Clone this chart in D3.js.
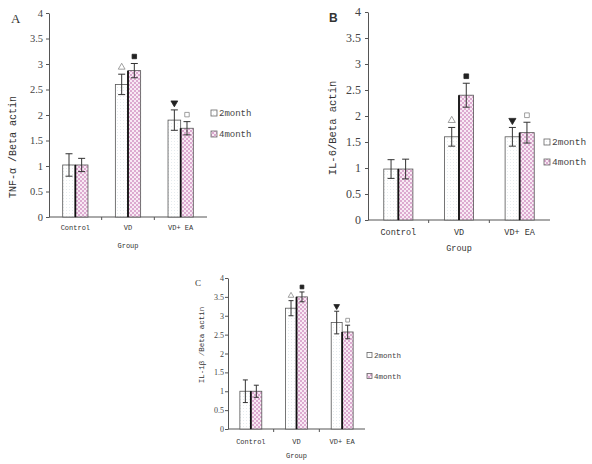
<!DOCTYPE html>
<html><head><meta charset="utf-8">
<script src="https://cdn.jsdelivr.net/npm/d3@7/dist/d3.min.js"></script>
<style>html,body{margin:0;padding:0;background:#fff;}svg{display:block;}</style>
</head><body>
<script>
// ---------- data ----------
const categories = ["Control", "VD", "VD+ EA"];
const seriesNames = ["2month", "4month"];
const yTicks = [0, 0.5, 1, 1.5, 2, 2.5, 3, 3.5, 4];

const tnfMean2 = [1.02, 2.60, 1.90];
const tnfErr2  = [0.22, 0.20, 0.20];
const tnfMean4 = [1.02, 2.87, 1.74];
const tnfErr4  = [0.13, 0.14, 0.13];

const il6Mean2 = [0.98, 1.60, 1.60];
const il6Err2  = [0.18, 0.18, 0.18];
const il6Mean4 = [0.98, 2.40, 1.68];
const il6Err4  = [0.19, 0.23, 0.20];

const il1bMean2 = [1.00, 3.20, 2.82];
const il1bErr2  = [0.30, 0.20, 0.30];
const il1bMean4 = [1.00, 3.50, 2.57];
const il1bErr4  = [0.16, 0.13, 0.18];

const markers2 = [null, "triUpOpen", "triDownFilled"];
const markers4 = [null, "sqFilled", "sqOpen"];

// ---------- drawing ----------
const W = 592, H = 464;
const svg = d3.select("body").append("svg").attr("width", W).attr("height", H);
const FONT = "'Liberation Mono', 'DejaVu Sans Mono', monospace";
const NUMFONT = "'Liberation Serif', 'DejaVu Serif', serif";

const defs = svg.append("defs");
const p2 = defs.append("pattern").attr("id", "pat2").attr("patternUnits", "userSpaceOnUse")
  .attr("width", 3).attr("height", 3);
p2.append("rect").attr("width", 3).attr("height", 3).attr("fill", "#ffffff");
p2.append("rect").attr("width", 1).attr("height", 1).attr("fill", "#e6ecef");
const p4 = defs.append("pattern").attr("id", "pat4").attr("patternUnits", "userSpaceOnUse")
  .attr("width", 4).attr("height", 4);
p4.append("rect").attr("width", 4).attr("height", 4).attr("fill", "#f8eaf4");
p4.append("rect").attr("x", 0).attr("y", 0).attr("width", 2).attr("height", 2).attr("fill", "#dcaad0");
p4.append("rect").attr("x", 2).attr("y", 2).attr("width", 2).attr("height", 2).attr("fill", "#dcaad0");

function drawPanel(cfg) {
  const g = svg.append("g");
  const y = d3.scaleLinear().domain([0, 4]).range([cfg.y0, cfg.y4]);
  const x = d3.scaleBand().domain(categories).range([cfg.x0, cfg.x1])
    .paddingInner(0.52).paddingOuter(0.26);
  const xs = d3.scaleBand().domain(seriesNames).range([0, x.bandwidth()]);

  // y axis
  const ya = d3.axisLeft(y).tickValues(yTicks).tickSize(3).tickSizeOuter(0)
    .tickFormat(d3.format("~g"));
  const yg = g.append("g").attr("transform", `translate(${cfg.x0},0)`).call(ya);
  yg.select(".domain").attr("stroke", "#555");
  yg.selectAll(".tick line").attr("stroke", "#555");
  yg.selectAll(".tick text").attr("font-family", NUMFONT).attr("font-size", cfg.tickFs)
    .attr("fill", "#444").attr("x", -cfg.tickGap);

  // x axis
  g.append("line").attr("x1", cfg.x0).attr("x2", cfg.x1).attr("y1", cfg.y0).attr("y2", cfg.y0)
    .attr("stroke", "#555");
  const step = x.step();
  [1, 2].forEach(i => {
    g.append("line").attr("x1", cfg.x0 + step * i).attr("x2", cfg.x0 + step * i)
      .attr("y1", cfg.y0).attr("y2", cfg.y0 + 3).attr("stroke", "#555");
  });
  g.selectAll(".cat").data(categories).join("text")
    .attr("x", d => x(d) + x.bandwidth() / 2).attr("y", cfg.y0 + cfg.catDy)
    .attr("text-anchor", "middle").attr("font-family", FONT).attr("font-size", cfg.catFs)
    .attr("fill", "#333").text(d => d);
  g.append("text").attr("x", (cfg.x0 + cfg.x1) / 2).attr("y", cfg.groupY)
    .attr("text-anchor", "middle").attr("font-family", FONT).attr("font-size", cfg.catFs)
    .attr("fill", "#333").text("Group");

  // y label
  g.append("text").attr("transform", `translate(${cfg.ylabX},${cfg.ylabY}) rotate(-90)`)
    .attr("text-anchor", "middle").attr("font-family", FONT).attr("font-size", cfg.ylabFs)
    .attr("fill", "#333").text(cfg.ylabel);

  // panel letter
  g.append("text").attr("x", cfg.letX).attr("y", cfg.letY)
    .attr("font-family", cfg.letFont).attr("font-weight", cfg.letWeight)
    .attr("font-size", cfg.letFs).attr("fill", "#333").text(cfg.letter);

  const series = [
    { name: "2month", mean: cfg.mean2, err: cfg.err2, fill: "url(#pat2)", mk: markers2 },
    { name: "4month", mean: cfg.mean4, err: cfg.err4, fill: "url(#pat4)", mk: markers4 }
  ];
  const capW = cfg.capW;
  series.forEach((s, si) => {
    categories.forEach((c, i) => {
      const bx = x(c) + xs(s.name);
      const bw = xs.bandwidth();
      const top = y(s.mean[i]);
      g.append("rect").attr("x", bx).attr("y", top).attr("width", bw)
        .attr("height", cfg.y0 - top).attr("fill", s.fill)
        .attr("stroke", "#555").attr("stroke-width", 0.8);
      if (si === 1) {
        g.append("line").attr("x1", bx).attr("x2", bx).attr("y1", top).attr("y2", cfg.y0)
          .attr("stroke", "#111").attr("stroke-width", 1.8);
      }
      const cx = bx + bw / 2;
      const eT = y(s.mean[i] + s.err[i]), eB = y(s.mean[i] - s.err[i]);
      g.append("line").attr("x1", cx).attr("x2", cx).attr("y1", eT).attr("y2", eB)
        .attr("stroke", "#333").attr("stroke-width", 1);
      [eT, eB].forEach(yy => g.append("line").attr("x1", cx - capW / 2).attr("x2", cx + capW / 2)
        .attr("y1", yy).attr("y2", yy).attr("stroke", "#333").attr("stroke-width", 1));
      const m = s.mk[i];
      if (m) {
        const my = eT - cfg.mkOff;
        let sym, rot = 0, filled;
        if (m === "triUpOpen") { sym = d3.symbolTriangle; filled = false; }
        if (m === "triDownFilled") { sym = d3.symbolTriangle; filled = true; rot = 180; }
        if (m === "sqFilled") { sym = d3.symbolSquare; filled = true; }
        if (m === "sqOpen") { sym = d3.symbolSquare; filled = false; }
        g.append("path").attr("d", d3.symbol().type(sym).size(cfg.mkSize)())
          .attr("transform", `translate(${cx},${my}) rotate(${rot})`)
          .attr("fill", filled ? "#222" : "#fff").attr("stroke", filled ? "#222" : "#888")
          .attr("stroke-width", 0.8);
      }
    });
  });

  // legend
  series.forEach((s, si) => {
    const ly = cfg.legY + si * cfg.legDy;
    g.append("rect").attr("x", cfg.legX).attr("y", ly - cfg.legSq / 2)
      .attr("width", cfg.legSq).attr("height", cfg.legSq).attr("fill", s.fill)
      .attr("stroke", "#666").attr("stroke-width", 0.8);
    g.append("text").attr("x", cfg.legX + cfg.legSq + 2).attr("y", ly)
      .attr("dy", "0.35em").attr("font-family", FONT).attr("font-size", cfg.legFs)
      .attr("fill", "#444").text(s.name);
  });
}

drawPanel({
  x0: 49, x1: 207, y0: 217, y4: 13,
  tickFs: 10.5, tickGap: 6, catFs: 7, catDy: 13, groupY: 248,
  ylabel: "TNF-\u03b1 /Beta actin", ylabX: 16, ylabY: 147, ylabFs: 10,
  letter: "A", letX: 11, letY: 23, letFont: "'Liberation Serif', serif", letWeight: "normal", letFs: 13,
  mean2: tnfMean2, err2: tnfErr2, mean4: tnfMean4, err4: tnfErr4,
  capW: 7, mkOff: 7, mkSize: 20,
  legX: 211, legY: 113, legDy: 21, legSq: 6, legFs: 9
});

drawPanel({
  x0: 368, x1: 550, y0: 220, y4: 12,
  tickFs: 12, tickGap: 7, catFs: 8.5, catDy: 15, groupY: 251,
  ylabel: "IL-6/Beta actin", ylabX: 336, ylabY: 128, ylabFs: 10.5,
  letter: "B", letX: 329, letY: 22, letFont: "'Liberation Sans', Arial, sans-serif", letWeight: "bold", letFs: 12,
  mean2: il6Mean2, err2: il6Err2, mean4: il6Mean4, err4: il6Err4,
  capW: 7, mkOff: 7, mkSize: 22,
  legX: 544, legY: 142, legDy: 20, legSq: 6, legFs: 9.5
});

drawPanel({
  x0: 228, x1: 365, y0: 429, y4: 278,
  tickFs: 8, tickGap: 4, catFs: 7, catDy: 15, groupY: 458,
  ylabel: "IL-1\u03b2 /Beta actin", ylabX: 204, ylabY: 345, ylabFs: 7.5,
  letter: "C", letX: 195, letY: 286, letFont: "'Liberation Serif', serif", letWeight: "normal", letFs: 9,
  mean2: il1bMean2, err2: il1bErr2, mean4: il1bMean4, err4: il1bErr4,
  capW: 5, mkOff: 5, mkSize: 14,
  legX: 367, legY: 355, legDy: 21, legSq: 5, legFs: 7.5
});
</script>
</body></html>
